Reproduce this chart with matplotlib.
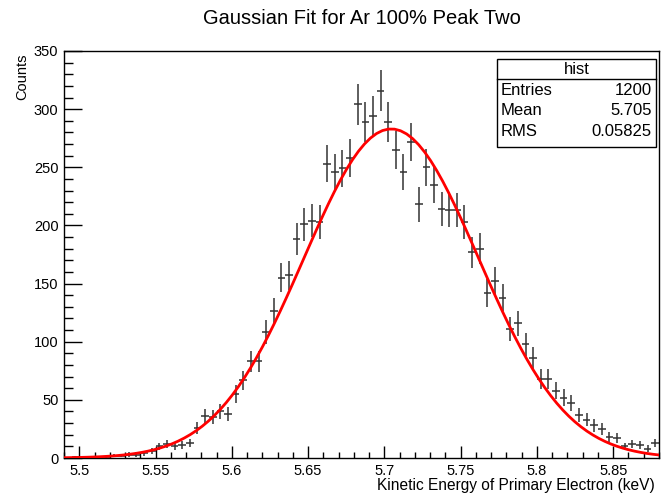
import numpy as np
import matplotlib
matplotlib.use("Agg")
import matplotlib.pyplot as plt
from matplotlib.patches import Rectangle
from matplotlib.ticker import MultipleLocator

plt.rcParams['font.family'] = ['Liberation Sans', 'DejaVu Sans']

# Histogram binning (78 bins of 0.005 keV from 5.49 to 5.88)
x_min, x_max, n_bins = 5.49, 5.88, 78

counts = [
    0, 1, 0, 1, 1, 1, 2, 2, 3, 3, 4, 6,
    10, 12, 10, 11, 13, 26, 36, 35, 40, 38, 55, 67,
    83, 83, 108, 126, 155, 157, 188, 201, 204, 203, 253, 246,
    249, 258, 304, 289, 294, 316, 289, 265, 246, 272, 218, 250,
    235, 214, 213, 213, 203, 177, 180, 142, 152, 138, 111, 116,
    98, 86, 68, 68, 58, 52, 47, 37, 33, 28, 25, 18,
    17, 10, 12, 11, 8, 13,
]

# Gaussian fit parameters
fit_amp, fit_mean, fit_sigma = 283.0, 5.7045, 0.0573

# Stats box entries
stats_title = "hist"
stats_rows = [("Entries", "1200"), ("Mean", "5.705"), ("RMS", "0.05825")]

title = "Gaussian Fit for Ar 100% Peak Two"
xlabel = "Kinetic Energy of Primary Electron (keV)"
ylabel = "Counts"

W, H = 672, 494
fig = plt.figure(figsize=(W / 100, H / 100), dpi=100)

def fx(px):
    return px / W

def fy(py):
    return 1 - py / H

ax_l, ax_r, ax_t, ax_b = 64, 659, 51, 458
ax = fig.add_axes([fx(ax_l), fy(ax_b), fx(ax_r) - fx(ax_l), fy(ax_t) - fy(ax_b)])

edges = np.linspace(x_min, x_max, n_bins + 1)
centers = 0.5 * (edges[:-1] + edges[1:])
width = edges[1] - edges[0]
y = np.array(counts, dtype=float)
mask = y > 0
ax.errorbar(centers[mask], y[mask], xerr=width / 2, yerr=np.sqrt(y[mask]),
            fmt='none', ecolor='#333333', elinewidth=1.1, capsize=0, zorder=2)

xf = np.linspace(x_min, x_max, 100)
yf = fit_amp * np.exp(-0.5 * ((xf - fit_mean) / fit_sigma) ** 2)
ax.plot(xf, yf, color='#ff0000', lw=2.0, zorder=3)

ax.set_xlim(x_min, x_max)
ax.set_ylim(0, 350)
ax.xaxis.set_major_locator(MultipleLocator(0.05))
ax.xaxis.set_minor_locator(MultipleLocator(0.01))
ax.yaxis.set_major_locator(MultipleLocator(50))
ax.yaxis.set_minor_locator(MultipleLocator(10))
ax.xaxis.set_major_formatter(matplotlib.ticker.FuncFormatter(lambda v, p: f"{v:g}"))
ax.tick_params(axis='x', which='major', direction='in', length=8.6, width=1.0, labelsize=10.5, pad=4)
ax.tick_params(axis='x', which='minor', direction='in', length=4.3, width=1.0)
ax.tick_params(axis='y', which='major', direction='in', length=13, width=1.0, labelsize=10.5, pad=4)
ax.tick_params(axis='y', which='minor', direction='in', length=6.5, width=1.0)
ax.tick_params(top=False, right=False, which='both')
for s in ax.spines.values():
    s.set_linewidth(1.0)
    s.set_color('black')

fig.text(fx((ax_l + ax_r) / 2), fy(18), title, ha='center', va='center', fontsize=14.5)
fig.text(fx(655), fy(485), xlabel, ha='right', va='center', fontsize=11.2)
fig.text(fx(22), fy(53), ylabel, ha='center', va='top', rotation=90, fontsize=10.5)

# Stats box
bx0, bx1, by0, by1, bh = 497, 656, 59, 147, 79
fig.add_artist(Rectangle((fx(bx0), fy(by1)), fx(bx1) - fx(bx0), fy(by0) - fy(by1),
                         transform=fig.transFigure, facecolor='white',
                         edgecolor='black', lw=1.0, zorder=5))
fig.add_artist(plt.Line2D([fx(bx0), fx(bx1)], [fy(bh), fy(bh)],
                          transform=fig.transFigure, color='black', lw=1.0, zorder=6))
fig.text(fx((bx0 + bx1) / 2), fy(69), stats_title, ha='center', va='center', fontsize=12, zorder=7)
for i, (lab, val) in enumerate(stats_rows):
    yy = 90 + i * 20.5
    fig.text(fx(501), fy(yy), lab, ha='left', va='center', fontsize=12, zorder=7)
    fig.text(fx(652), fy(yy), val, ha='right', va='center', fontsize=12, zorder=7)

fig.savefig("out.png", dpi=100)
